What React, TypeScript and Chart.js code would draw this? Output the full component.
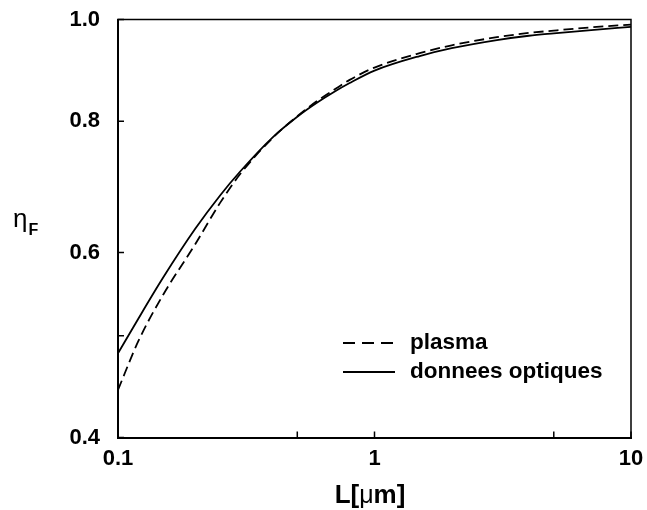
import React, { useEffect, useRef } from "react";
import { Chart, registerables } from "chart.js";

Chart.register(...registerables);

// ---- data ----
const L_VALUES = [0.1, 0.12, 0.15, 0.2, 0.25, 0.3, 0.4, 0.5, 0.6, 0.7, 0.8, 1, 1.5, 2, 3, 4, 5, 7, 10];
const PLASMA = [0.444, 0.494, 0.547, 0.611, 0.669, 0.713, 0.771, 0.809, 0.837, 0.858, 0.876, 0.9, 0.929, 0.945, 0.962, 0.971, 0.976, 0.983, 0.989];
const OPTIQUES = [0.481, 0.519, 0.568, 0.632, 0.68, 0.717, 0.772, 0.808, 0.834, 0.854, 0.87, 0.894, 0.923, 0.939, 0.956, 0.965, 0.97, 0.977, 0.984];
const SERIES_LABELS = ["plasma", "donnees optiques"];
const X_TICKS = [0.1, 0.5, 1, 5, 10];
const X_LABELED = [0.1, 1, 10];
const Y_TICKS = [0.4, 0.5, 0.6, 0.8, 1.0];
const Y_LABELED = [0.4, 0.6, 0.8, 1.0];
const X_TITLE_PARTS = ["L[", "\u03bc", "m]"];
const Y_TITLE_MAIN = "\u03b7";
const Y_TITLE_SUB = "F";

const FONT = '"Liberation Sans", Arial, Helvetica, sans-serif';

const framePlugin = {
  id: "frame",
  afterDraw(chart: any) {
    const { ctx, chartArea } = chart;
    const { left, right, top, bottom } = chartArea;
    const xs = chart.scales.x;
    const ys = chart.scales.y;
    ctx.save();
    ctx.strokeStyle = "#000";
    ctx.setLineDash([]);
    // top & right border
    ctx.lineWidth = 1.5;
    ctx.beginPath();
    ctx.moveTo(left - 1, top);
    ctx.lineTo(right, top);
    ctx.lineTo(right, bottom + 1);
    ctx.stroke();
    // inward ticks
    ctx.lineWidth = 1.5;
    ctx.beginPath();
    xs.ticks.forEach((t: any) => {
      const px = xs.getPixelForValue(t.value);
      ctx.moveTo(px, bottom);
      ctx.lineTo(px, bottom - 6);
    });
    ys.ticks.forEach((t: any) => {
      const py = ys.getPixelForValue(t.value);
      ctx.moveTo(left, py);
      ctx.lineTo(left + 6, py);
    });
    ctx.stroke();

    ctx.fillStyle = "#000";
    // x title with regular-weight mu
    ctx.textBaseline = "middle";
    ctx.textAlign = "left";
    const fonts = [`bold 26px ${FONT}`, `25px ${FONT}`, `bold 26px ${FONT}`];
    let total = 0;
    X_TITLE_PARTS.forEach((p, i) => {
      ctx.font = fonts[i];
      total += ctx.measureText(p).width;
    });
    let tx = 370 - total / 2;
    X_TITLE_PARTS.forEach((p, i) => {
      ctx.font = fonts[i];
      ctx.fillText(p, tx, 496);
      tx += ctx.measureText(p).width;
    });

    // y title (horizontal, with subscript)
    ctx.textBaseline = "alphabetic";
    ctx.font = `26px ${FONT}`;
    ctx.fillText(Y_TITLE_MAIN, 13, 227);
    const w = ctx.measureText(Y_TITLE_MAIN).width;
    ctx.font = `bold 16px ${FONT}`;
    ctx.fillText(Y_TITLE_SUB, 13 + w + 1, 235);

    // legend
    const lx0 = 343, lx1 = 395, ltx = 410;
    const rows = [343, 372];
    chart.data.datasets.forEach((ds: any, i: number) => {
      const y = rows[i];
      ctx.lineWidth = ds.borderWidth;
      ctx.strokeStyle = ds.borderColor;
      ctx.setLineDash(ds.borderDash ? [12, 7] : []);
      ctx.beginPath();
      ctx.moveTo(lx0, y);
      ctx.lineTo(lx1, y);
      ctx.stroke();
      ctx.setLineDash([]);
      ctx.font = `bold 22.5px ${FONT}`;
      ctx.textBaseline = "middle";
      ctx.fillStyle = "#000";
      ctx.fillText(ds.label, ltx, y);
    });
    ctx.restore();
  },
};

export default function App() {
  const ref = useRef<HTMLCanvasElement | null>(null);
  useEffect(() => {
    if (!ref.current) return;
    const chart = new Chart(ref.current, {
      type: "line",
      data: {
        datasets: [
          {
            label: SERIES_LABELS[0],
            data: L_VALUES.map((x, i) => ({ x, y: PLASMA[i] })),
            borderColor: "#000",
            borderWidth: 1.8,
            borderDash: [10, 5],
            pointRadius: 0,
            pointHoverRadius: 0,
            fill: false,
            cubicInterpolationMode: "monotone",
          },
          {
            label: SERIES_LABELS[1],
            data: L_VALUES.map((x, i) => ({ x, y: OPTIQUES[i] })),
            borderColor: "#000",
            borderWidth: 1.8,
            pointRadius: 0,
            pointHoverRadius: 0,
            fill: false,
            cubicInterpolationMode: "monotone",
          },
        ],
      },
      options: {
        responsive: false,
        animation: false,
        devicePixelRatio: 1,
        layout: { padding: { top: 19.5, right: 16, left: 0, bottom: 0 } },
        plugins: { legend: { display: false }, tooltip: { enabled: false } },
        scales: {
          x: {
            type: "logarithmic",
            min: 0.1,
            max: 10,
            afterBuildTicks: (s: any) => {
              s.ticks = X_TICKS.map((v) => ({ value: v }));
            },
            afterFit: (s: any) => {
              s.height = 72.5;
              s.paddingLeft = 0;
              s.paddingRight = 0;
            },
            grid: { display: true, drawOnChartArea: false, drawTicks: false },
            border: { display: true, width: 2, color: "#000" },
            ticks: {
              autoSkip: false,
              maxRotation: 0,
              padding: 8,
              color: "#000",
              font: { family: FONT, size: 22, weight: "bold" },
              callback: (v: any) => (X_LABELED.includes(Number(v)) ? String(Number(v)) : ""),
            },
            title: { display: false },
          },
          y: {
            type: "logarithmic",
            min: 0.4,
            max: 1.0,
            afterBuildTicks: (s: any) => {
              s.ticks = Y_TICKS.map((v) => ({ value: v }));
            },
            afterFit: (s: any) => {
              s.width = 118;
              s.paddingTop = 0;
              s.paddingBottom = 0;
            },
            grid: { display: true, drawOnChartArea: false, drawTicks: false },
            border: { display: true, width: 2, color: "#000" },
            ticks: {
              autoSkip: false,
              padding: 18,
              color: "#000",
              font: { family: FONT, size: 22, weight: "bold" },
              callback: (v: any) => (Y_LABELED.includes(Number(v)) ? Number(v).toFixed(1) : ""),
            },
          },
        },
      },
      plugins: [framePlugin],
    });
    return () => chart.destroy();
  }, []);
  return (
    <div style={{ position: "absolute", left: 0, top: 0, width: 647, height: 510, background: "#fff" }}>
      <canvas ref={ref} width={647} height={510} style={{ width: 647, height: 510 }} />
    </div>
  );
}
